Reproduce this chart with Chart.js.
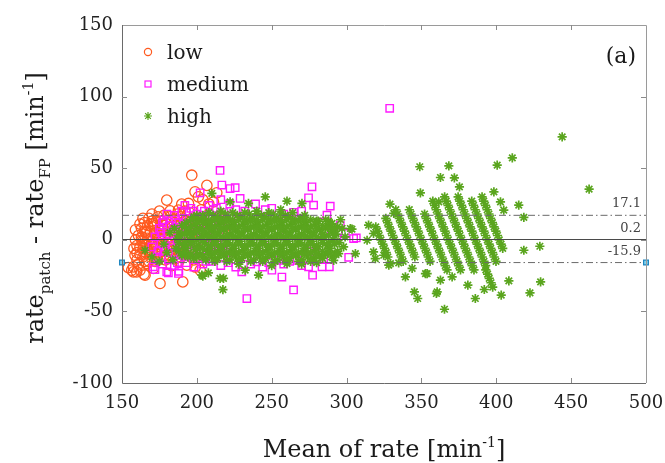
<!DOCTYPE html>
<html>
<head>
<meta charset="utf-8">
<script src="https://cdn.jsdelivr.net/npm/chart.js@4.4.1/dist/chart.umd.min.js"></script>
<style>
  html, body { margin: 0; padding: 0; background: #fff; }
  #wrap { width: 665px; height: 463px; }
</style>
</head>
<body>
<div id="wrap"><canvas id="baChart" width="665" height="463"></canvas></div>
<script>
// series names (legend)
const seriesNames = ['low', 'medium', 'high'];

// axis ticks
const xTickValues = [150, 200, 250, 300, 350, 400, 450, 500];
const yTickValues = [-100, -50, 0, 50, 100, 150];

// Bland-Altman lines
const lineX = [150, 500];
const meanDiff = 0.2;
const upperLoA = 17.1;
const lowerLoA = -15.9;

// low rate group: [mean, difference]
const lowPts = [
  [160,-4],[161,3],[162,-10],[163,8],[164,-1],[165,-15],[165,12],[166,5],[167,-7],[168,0],
  [168,15],[169,-12],[170,9],[171,-3],[172,4],[172,-9],[173,13],[174,-14],[175,1],[175,7],
  [176,-5],[177,11],[178,-11],[178,17],[179,3],[180,-2],[181,9],[182,-7],[183,14],[184,0],
  [185,5],[186,-13],[187,10],[188,-4],[189,16],[190,2],[191,-9],[192,7],[193,13],[194,-2],
  [195,19],[196,4],[197,-7],[198,10],[200,15],[201,-1],[203,21],[205,6],[207,-4],[208,18],
  [210,11],[212,2],[215,15],[218,8],
  [159,0],[159,7],[160,-9],[161,-17],[162,11],[162,-5],[163,2],[164,-12],[164,15],[165,6],
  [166,-3],[166,-9],[167,10],[167,1],[168,-15],[169,6],[169,-4],[170,13],[170,-8],[171,0],
  [172,-15],[172,10],[173,-5],[173,5],[174,16],[174,-10],[176,3],[176,13],[177,-8],[177,-1],
  [178,7],[179,-14],[180,11],[180,-6],[181,1],[182,16],[182,-11],[183,6],[184,-4],[185,12],
  [186,-7],[186,1],[187,18],[188,6],[189,-12],[190,12],[191,-3],[192,20],[193,-6],[194,3],
  [196,-12],[197,15],
  [196.6,45.1],[206.7,38],[198.8,33.5],[179.9,27.7],[182.1,20.2],[189.9,24.9],[194.4,25.4],
  [187.7,20.7],[213.3,32.8],[211.1,26.5],[204,28],[170.9,11.4],[166.5,5.5],[163.2,-0.3],
  [164.2,-6.1],[158.7,-10.8],[157.6,-18.9],[165.4,-24.7],[175.4,-30.5],[190.6,-29.4],
  [157.6,-22.4],[162,-21.2],[166.5,-16.6],[164.7,-24],[154.2,-19.4],[202.2,-21.2],
  [193.3,-17.7],[165.4,-3.8],[171,-20],[183,-18],[188,-15],[198,-14],[160,-14],[158,-6],
  [170,18],[175,20],[201,30],[208,25],[199,-19],[156.5,-21.2],[159.8,-22.4],[167.6,-7.8]
];

// medium rate group
const mediumPts = [
  [170,-5],[172,2],[173,-12],[175,8],[176,-2],[178,-8],[178,14],[180,3],[181,-14],[182,10],
  [183,-4],[185,17],[185,6],[186,-10],[187,0],[188,12],[189,-6],[190,20],[191,4],[192,-12],
  [193,15],[194,8],[195,-3],[196,22],[197,11],[198,-8],[199,3],[200,18],[201,-13],[202,13],
  [203,6],[204,-4],[205,20],[206,10],[207,-10],[208,24],[209,2],[210,16],[211,-7],[212,8],
  [213,22],[214,-2],[215,14],[216,28],[217,-12],[218,19],[220,5],[222,25],[224,-9],[226,21],
  [174,-8],[176,5],[177,12],[179,-5],[180,18],[182,-1],[184,8],[184,-9],[186,14],[187,-16],
  [188,3],[190,-8],[191,11],[192,24],[194,-5],[195,15],[197,-12],[198,20],[199,7],[200,-2],
  [201,10],[203,-9],[204,17],[205,1],[206,-15],[208,11],[209,-4],[211,21],[212,-10],[213,5],
  [215,-6],[216,10],[218,-3],[219,13],[221,-9],[223,17],
  [172,-20.8],[181,-23.1],[177,-17],[185,-18],[188,-22],[193,-16],[198,-19],[204,-17],
  [210,-15],[216,-18],[221,-16],[226,-19],[230,-22.4],[233.4,-12],[236,-17],[240,-15.4],
  [244,-19],[248,-16],[250.1,-21.2],[254.6,-14.3],[256.8,-26],[258,-17],[262,-15],
  [264.6,-35],[266.9,-14.3],[270,-18],[274.6,-18.9],[277.3,-24.7],[281.3,-9.6],[283.6,-18.9],
  [284.7,-13.1],[288.5,-18.9],[233.4,-41],[170.9,-18.9],[179.9,-22.4],[187.7,-23.5],
  [215.5,48.4],[216.7,38.2],[222.2,35.8],[225.6,36.4],[202.2,32.8],[228.9,28.9],[239.2,25],
  [245.7,21],[264.6,19.2],[276.9,37],[274.6,29.3],[278,24.2],[289.1,23.5],[286.9,17.2],
  [283.6,12.5],[295.8,10.2],[299.2,4.4],[304.7,0.9],[306.5,1.3],[301.4,-12.2],[293.5,1],
  [328.8,91.8],[232,20],[250,22],[258,18],[270,20],[264.6,-13],
  [230,8],[245,-5],[260,3],[275,-8],[285,5]
];

// high rate group
const highPts = [
  [186,-6],[187,1],[185,8],
  [190,-11],[191,-4],[189,3],[190,10],
  [194,-12],[193,-6],[195,0],[194,6],[193,12],
  [198,-13],[199,-7],[197,-1],[198,5],[199,11],[198,16],
  [202,-10],[201,-4],[203,2],[202,8],[201,14],
  [206,-14],[207,-8],[205,-2],[206,4],[207,10],[205,15],
  [210,-12],[209,-6],[211,0],[210,6],[209,12],[211,17],
  [214,-13],[215,-7],[213,-1],[214,5],[215,11],[214,16],
  [218,-11],[217,-5],[219,1],[218,7],[217,13],[219,18],
  [222,-14],[223,-8],[221,-2],[222,4],[223,10],[221,15],
  [226,-12],[225,-6],[227,0],[226,6],[225,12],[227,17],
  [230,-13],[231,-7],[229,-1],[230,5],[231,11],[229,16],
  [234,-11],[233,-5],[235,1],[234,7],[233,13],[235,18],
  [238,-14],[239,-8],[237,-2],[238,4],[239,10],[237,15],
  [242,-12],[241,-6],[243,0],[242,6],[241,12],[243,17],
  [246,-13],[247,-7],[245,-1],[246,5],[247,11],[245,16],
  [250,-11],[249,-5],[251,1],[250,7],[249,13],[251,18],
  [254,-14],[255,-8],[253,-2],[254,4],[255,10],[253,15],
  [258,-12],[257,-6],[259,0],[258,6],[257,12],[259,17],
  [262,-13],[263,-7],[261,-1],[262,5],[263,11],[261,16],
  [266,-11],[265,-5],[267,1],[266,7],[265,13],
  [270,-14],[271,-8],[269,-2],[270,4],[271,10],[269,15],
  [274,-12],[273,-6],[275,0],[274,6],[273,12],
  [278,-13],[279,-7],[277,-1],[278,5],[279,11],
  [282,-11],[281,-5],[283,1],[282,7],[281,13],
  [286,-10],[287,-4],[285,2],[286,8],
  [290,-12],[289,-6],[291,0],[290,6],[289,11],
  [294,-8],[295,-2],[293,4],[294,9],
  [298,-5],[299,2],[297,8],
  [188,-8],[188,-2],[188,5],
  [192,-9],[192,-2],[192,4],[192,9],
  [196,-10],[196,-3],[196,3],[196,9],[196,14],
  [200,-12],[200,-6],[200,0],[200,6],[200,12],[200,17],
  [204,-12],[204,-6],[204,0],[204,6],[204,12],[204,17],
  [208,-10],[208,-4],[208,2],[208,8],[208,13],[208,19],
  [212,-15],[212,-9],[212,-3],[212,3],[212,9],[212,14],
  [216,-10],[216,-4],[216,2],[216,8],[216,14],[216,20],
  [220,-15],[220,-9],[220,-3],[220,3],[220,9],[220,13],
  [224,-10],[224,-4],[224,2],[224,8],[224,14],[224,19],
  [228,-15],[228,-9],[228,-3],[228,3],[228,9],[228,14],
  [232,-10],[232,-4],[232,2],[232,8],[232,14],[232,19],
  [236,-15],[236,-9],[236,-3],[236,3],[236,9],[236,13],
  [240,-10],[240,-4],[240,2],[240,8],[240,14],[240,18],
  [244,-15],[244,-9],[244,-3],[244,3],[244,9],[244,14],
  [248,-10],[248,-4],[248,2],[248,8],[248,14],[248,19],
  [252,-15],[252,-9],[252,-3],[252,3],[252,9],[252,13],
  [256,-10],[256,-4],[256,2],[256,8],[256,14],[256,18],
  [260,-15],[260,-9],[260,-3],[260,3],[260,9],[260,14],
  [264,-10],[264,-4],[264,2],[264,8],[264,14],[264,19],
  [268,-15],[268,-9],[268,-3],[268,3],[268,9],[268,13],
  [272,-10],[272,-4],[272,2],[272,8],[272,14],[272,17],
  [276,-15],[276,-9],[276,-3],[276,3],[276,9],[276,14],
  [280,-10],[280,-4],[280,2],[280,8],[280,13],
  [284,-13],[284,-8],[284,-2],[284,4],[284,10],
  [288,-9],[288,-2],[288,3],[288,9],[288,13],
  [292,-10],[292,-3],[292,3],[292,8],
  [165.4,-7.3],[170,-12],[175,-15],[178,-3],[182,5],[180,-9],[184,-14],
  [217.4,-34.8],[217.8,-27],[241.2,-24.7],[204,-25.4],[232.3,-21.2],[207.7,-23.1],
  [215.5,-27],[203.3,-24.7],[245.7,30],[260.2,27],[270.2,25.4],[222.2,26.5],[210,32.4],
  [234.5,25.4],[260.2,-16.6],[290.3,11.4],[302.5,7.9],[294.7,-9.6],[291.4,-14.4],
  [305.9,-9.6],[303.6,7.4],[314.7,10.2],[318,4.4],[313.7,-0.3],[318,-8.4],[319.2,-13.1],
  [324.8,-10.8],[228,-17],[250,-18],[270,-17],[280,-16],[240,20],[256,21],[286,14],[296,14],
  // diagonal bands above 320
  [319.5,9],[320.7,6],[321.8,3],[323,0],[324.2,-3],[325.3,-6],[326.5,-9],[327.6,-12],
  [326.2,15],[327.4,12],[328.5,9],[329.7,6],[330.8,3],[332,0],[333.2,-3],[334.3,-6],
  [335.5,-9],[336.6,-12],[337.8,-15],
  [332.9,21],[334.1,18],[335.2,15],[336.4,12],[337.5,9],[338.7,6],[339.8,3],[341,0],
  [342.2,-3],[343.3,-6],[344.5,-9],[345.6,-12],
  [341.9,21],[343.1,18],[344.2,15],[345.4,12],[346.5,9],[347.7,6],[348.8,3],[350,0],
  [351.2,-3],[352.3,-6],[353.5,-9],[354.6,-12],[355.8,-15],
  [352.1,18],[353.2,15],[354.4,12],[355.5,9],[356.7,6],[357.8,3],[359,0],[360.2,-3],
  [361.3,-6],[362.5,-9],[363.6,-12],[364.8,-15],[365.9,-18],[367.1,-21],
  [357.6,27],[358.8,24],[359.9,21],[361.1,18],[362.2,15],[363.4,12],[364.5,9],[365.7,6],
  [366.8,3],[368,0],[369.2,-3],[370.3,-6],[371.5,-9],[372.6,-12],[373.8,-15],[374.9,-18],[376.1,-21],
  [365.5,30],[366.6,27],[367.8,24],[368.9,21],[370.1,18],[371.2,15],[372.4,12],[373.5,9],
  [374.7,6],[375.8,3],[377,0],[378.2,-3],[379.3,-6],[380.5,-9],[381.6,-12],[382.8,-15],
  [383.9,-18],[385.1,-21],
  [374.5,30],[375.6,27],[376.8,24],[377.9,21],[379.1,18],[380.2,15],[381.4,12],[382.5,9],
  [383.7,6],[384.8,3],[386,0],[387.2,-3],[388.3,-6],[389.5,-9],[390.6,-12],[391.8,-15],[392.9,-18],
  [383.6,27],[384.8,24],[385.9,21],[387.1,18],[388.2,15],[389.4,12],[390.5,9],[391.7,6],
  [392.8,3],[394,0],[395.2,-3],[396.3,-6],[397.5,-9],[398.6,-12],[399.8,-15],
  [390.5,30],[391.6,27],[392.8,24],[393.9,21],[395.1,18],[396.2,15],[397.4,12],[398.5,9],
  [399.7,6],[400.8,3],[402,0],[403.2,-3],[404.3,-6],
  [393,-21],[394.2,-24],[395.3,-27],[396.5,-30],[397.6,-33],
  [444,71.9],[462,35.4],[410.7,57.2],[400.6,52.1],[368.3,51.6],[348.9,51],[349.3,32.8],
  [362.7,43.5],[372,43.3],[375.4,37],[398.4,33.5],[402.8,26.5],[405,20.7],[415,24.2],
  [418.4,15.6],[329,24.9],[331.5,18.4],[361.6,26.5],
  [418.4,-7.3],[429.1,-4.5],[429.6,-29.4],[422.5,-37],[408.4,-28.7],[403.3,-38.7],[392,-34.7],
  [386,-41],[381,-31.7],[365.4,-48.5],[360,-37.5],[347.5,-41],[345.3,-36.4],[339.3,-25.9],
  [353.8,-23.6],[362.7,-28.2],[370.5,-25.9],[329.3,-16.6],[334.8,-16.1],[328.2,-17.7],
  [343.8,-20],[352.7,-23.6],[360.5,-36.4]
];

const serif = "'DejaVu Serif', serif";
const toXY = pts => pts.map(p => ({ x: p[0], y: p[1] }));

const decorPlugin = {
  id: 'decor',
  afterDraw(chart) {
    const ctx = chart.ctx;
    const a = chart.chartArea;
    const xs = chart.scales.x, ys = chart.scales.y;
    ctx.save();

    // box
    ctx.lineWidth = 1;
    ctx.strokeStyle = '#9a9a9a';
    ctx.beginPath();
    ctx.moveTo(a.left, a.top + 0.5); ctx.lineTo(a.right + 0.5, a.top + 0.5); ctx.lineTo(a.right + 0.5, a.bottom);
    ctx.stroke();
    ctx.strokeStyle = '#6a6a6a';
    ctx.beginPath();
    ctx.moveTo(a.left + 0.5, a.top); ctx.lineTo(a.left + 0.5, a.bottom + 0.5); ctx.lineTo(a.right, a.bottom + 0.5);
    ctx.stroke();

    // inner ticks
    ctx.strokeStyle = '#8a8a8a';
    ctx.beginPath();
    xTickValues.slice(1, -1).forEach(v => {
      const px = Math.round(xs.getPixelForValue(v)) + 0.5;
      ctx.moveTo(px, a.top); ctx.lineTo(px, a.top + 5);
      ctx.moveTo(px, a.bottom); ctx.lineTo(px, a.bottom - 5);
    });
    yTickValues.slice(1, -1).forEach(v => {
      const py = Math.round(ys.getPixelForValue(v)) + 0.5;
      ctx.moveTo(a.left, py); ctx.lineTo(a.left + 5, py);
      ctx.moveTo(a.right, py); ctx.lineTo(a.right - 5, py);
    });
    ctx.stroke();

    // titles with sub/superscripts
    ctx.fillStyle = '#1a1a1a';
    ctx.textBaseline = 'alphabetic';
    ctx.textAlign = 'left';
    const rich = (parts, cx, cy) => {
      let total = 0;
      parts.forEach(p => { ctx.font = p[1] + 'px ' + serif; total += ctx.measureText(p[0]).width; });
      let x = cx - total / 2;
      parts.forEach(p => {
        ctx.font = p[1] + 'px ' + serif;
        ctx.fillText(p[0], x, cy + p[2]);
        x += ctx.measureText(p[0]).width;
      });
    };
    rich([['Mean of rate [min', 24, 0], ['-1', 14, -10], [']', 24, 0]], (a.left + a.right) / 2, 457);

    ctx.save();
    ctx.translate(43, (a.top + a.bottom) / 2 + 4);
    ctx.rotate(-Math.PI / 2);
    rich([['rate', 24, 0], ['patch', 15, 7], [' - rate', 24, 0], ['FP', 15, 7],
          [' [min', 24, 0], ['-1', 14, -10], [']', 24, 0]], 0, 0);
    ctx.restore();

    // panel tag
    ctx.font = '22px ' + serif;
    ctx.textAlign = 'right';
    ctx.fillText('(a)', 636, 63);

    // limit labels
    ctx.font = '13px ' + serif;
    ctx.fillStyle = '#444';
    [[upperLoA, '17.1'], [meanDiff, '0.2'], [lowerLoA, '-15.9']].forEach(l => {
      ctx.fillText(l[1], a.right - 5, ys.getPixelForValue(l[0]) - 8);
    });

    // legend
    const lx = a.left + 26, tx = a.left + 45;
    const rows = [52, 84, 116];
    ctx.lineWidth = 1.2;
    ctx.strokeStyle = '#ff5a1f';
    ctx.beginPath(); ctx.arc(lx, rows[0], 3.6, 0, Math.PI * 2); ctx.stroke();
    ctx.strokeStyle = '#ff1aff';
    ctx.strokeRect(lx - 3, rows[1] - 3, 6, 6);
    ctx.strokeStyle = '#5aa51e';
    ctx.beginPath();
    for (let k = 0; k < 4; k++) {
      const ang = k * Math.PI / 4;
      ctx.moveTo(lx - 4 * Math.cos(ang), rows[2] - 4 * Math.sin(ang));
      ctx.lineTo(lx + 4 * Math.cos(ang), rows[2] + 4 * Math.sin(ang));
    }
    ctx.stroke();
    ctx.font = '20px ' + serif;
    ctx.fillStyle = '#1a1a1a';
    ctx.textAlign = 'left';
    seriesNames.forEach((n, i) => ctx.fillText(n, tx, rows[i] + 7));

    ctx.restore();
  }
};

const ctx = document.getElementById('baChart').getContext('2d');
new Chart(ctx, {
  type: 'scatter',
  data: {
    datasets: [
      {
        label: 'mean', data: lineX.map(x => ({ x: x, y: meanDiff })),
        showLine: true, pointRadius: 0, borderColor: '#4a4a4a', borderWidth: 1, order: 0
      },
      {
        label: 'upper', data: lineX.map(x => ({ x: x, y: upperLoA })),
        showLine: true, pointRadius: 0, borderColor: '#6a6a6a', borderWidth: 1,
        borderDash: [7, 3, 1.5, 3], order: 0
      },
      {
        label: 'lower', data: lineX.map(x => ({ x: x, y: lowerLoA })),
        showLine: true, pointRadius: 0, borderColor: '#6a6a6a', borderWidth: 1,
        borderDash: [7, 3, 1.5, 3], order: 0
      },
      {
        label: 'ends', data: lineX.map(x => ({ x: x, y: lowerLoA })),
        pointStyle: 'rect', pointRadius: 3.4, borderWidth: 1.2,
        borderColor: '#1f86c0', backgroundColor: '#7fd3ee', clip: false, order: -1
      },
      {
        label: seriesNames[2], data: toXY(highPts), pointStyle: 'star', pointRadius: 4.6,
        borderColor: '#5aa51e', borderWidth: 1.7, order: 1
      },
      {
        label: seriesNames[1], data: toXY(mediumPts), pointStyle: 'rect', pointRadius: 5.2,
        borderColor: '#ff1aff', backgroundColor: 'rgba(0,0,0,0)', borderWidth: 1.4, order: 2
      },
      {
        label: seriesNames[0], data: toXY(lowPts), pointStyle: 'circle', pointRadius: 5.2,
        borderColor: '#ff5a1f', backgroundColor: 'rgba(0,0,0,0)', borderWidth: 1.3, order: 3
      }
    ]
  },
  options: {
    responsive: false,
    animation: false,
    events: [],
    layout: { padding: { top: 25, right: 19, left: 0, bottom: 0 } },
    plugins: { legend: { display: false }, tooltip: { enabled: false } },
    scales: {
      x: {
        type: 'linear', min: 150, max: 500,
        afterBuildTicks: s => { s.ticks = xTickValues.map(v => ({ value: v })); },
        afterFit: s => { s.height = 80; s.paddingLeft = 0; s.paddingRight = 0; },
        grid: { display: false, drawTicks: false },
        border: { display: false },
        ticks: { font: { family: serif, size: 18 }, color: '#222', padding: 10, maxRotation: 0 }
      },
      y: {
        type: 'linear', min: -100, max: 150,
        afterBuildTicks: s => { s.ticks = yTickValues.map(v => ({ value: v })); },
        afterFit: s => { s.width = 122; s.paddingTop = 0; s.paddingBottom = 0; },
        grid: { display: false, drawTicks: false },
        border: { display: false },
        ticks: { font: { family: serif, size: 18 }, color: '#222', padding: 9 }
      }
    }
  },
  plugins: [decorPlugin]
});
</script>
</body>
</html>
